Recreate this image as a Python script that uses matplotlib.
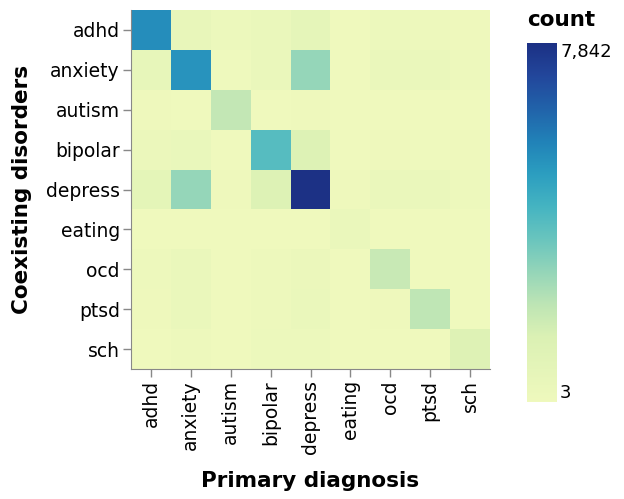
import numpy as np
import matplotlib
matplotlib.use("Agg")
import matplotlib.pyplot as plt
from matplotlib.colors import LinearSegmentedColormap, Normalize

# rows = coexisting disorder, cols = primary diagnosis
disorders = ["adhd", "anxiety", "autism", "bipolar", "depress", "eating", "ocd", "ptsd", "sch"]
counts = np.array([
    [5400, 550, 250, 350, 750, 50, 200, 150, 100],
    [600, 5250, 80, 400, 2850, 60, 350, 350, 150],
    [120, 60, 2000, 50, 100, 10, 50, 30, 30],
    [300, 450, 40, 3950, 1300, 30, 100, 80, 120],
    [800, 2850, 100, 1300, 7842, 100, 350, 400, 150],
    [50, 60, 20, 40, 60, 350, 30, 30, 3],
    [150, 350, 30, 150, 300, 20, 1900, 50, 30],
    [100, 400, 30, 150, 400, 20, 100, 2100, 30],
    [60, 150, 40, 200, 200, 20, 50, 40, 1250],
])

# vega "yellowgreenblue"
stops = ["#eff9bd", "#e5f5b9", "#dbf1b4", "#bde5b5", "#94d5b9", "#69c5be",
         "#45b4c2", "#2c9ec0", "#2182b8", "#2163aa", "#23479c", "#1c3185"]
cmap = LinearSegmentedColormap.from_list("ygb", stops)
norm = Normalize(vmin=counts.min(), vmax=counts.max())

fig = plt.figure(figsize=(6.24, 4.99), dpi=100)
ax = fig.add_axes([131/624, 1 - 369/499, 359/624, 359/499])

n = len(disorders)
ax.pcolormesh(np.arange(n + 1), np.arange(n + 1), counts, cmap=cmap, norm=norm)
ax.set_xlim(0, n)
ax.set_ylim(n, 0)
ax.set_xticks(np.arange(n) + 0.5)
ax.set_yticks(np.arange(n) + 0.5)
ax.set_xticklabels(disorders, rotation=90, fontsize=13.5)
ax.set_yticklabels(disorders, fontsize=13.5)
ax.tick_params(length=6, width=1, color="#888888", pad=2)
for s in ["top", "right"]:
    ax.spines[s].set_visible(False)
for s in ["left", "bottom"]:
    ax.spines[s].set_color("#888888")
ax.set_xlabel("Primary diagnosis", fontsize=15.5, fontweight="bold", labelpad=12)
ax.set_ylabel("Coexisting disorders", fontsize=15.5, fontweight="bold", labelpad=10)

# gradient legend
cax = fig.add_axes([527/624, 1 - 402/499, 30/624, 359/499])
grad = np.linspace(counts.min(), counts.max(), 256).reshape(-1, 1)
cax.imshow(grad, aspect="auto", cmap=cmap, norm=norm, origin="lower",
           extent=[0, 1, counts.min(), counts.max()])
cax.set_xticks([])
cax.set_yticks([])
for s in cax.spines.values():
    s.set_visible(False)
cax.text(1.1, counts.max(), f"{counts.max():,}", va="top", ha="left", fontsize=13,
         transform=cax.get_yaxis_transform())
cax.text(1.1, counts.min(), f"{counts.min():,}", va="bottom", ha="left", fontsize=13,
         transform=cax.get_yaxis_transform())
fig.text(527/624, 1 - 20/499, "count", fontsize=15.5, fontweight="bold", va="center", ha="left")

fig.savefig("out.png", dpi=100)
